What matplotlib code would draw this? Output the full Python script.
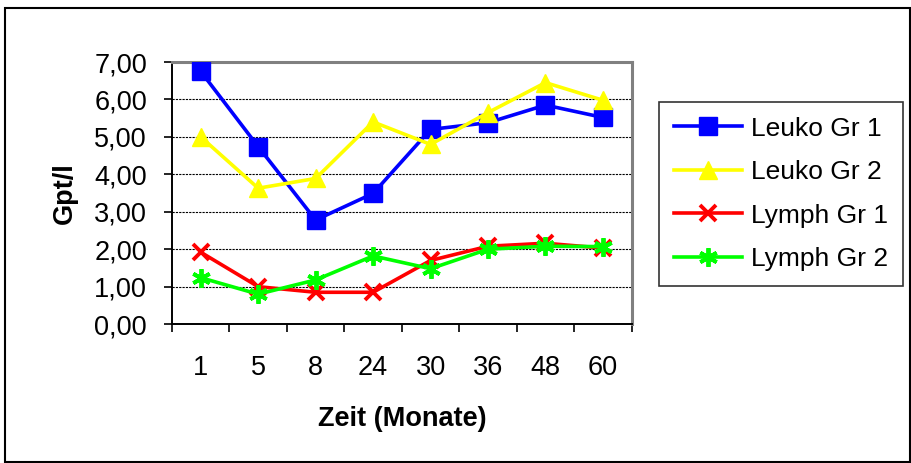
import numpy as np
import matplotlib as mpl
import matplotlib.pyplot as plt
from matplotlib.patches import Rectangle

mpl.rcParams.update({
    'font.family': ['Liberation Sans', 'DejaVu Sans'],
    'font.size': 19.5,
})

months = ['1', '5', '8', '24', '30', '36', '48', '60']
leuko_gr1 = [6.75, 4.74, 2.78, 3.49, 5.20, 5.38, 5.85, 5.52]
leuko_gr2 = [5.00, 3.63, 3.89, 5.40, 4.80, 5.65, 6.45, 5.98]
lymph_gr1 = [1.92, 1.00, 0.85, 0.85, 1.70, 2.08, 2.16, 2.03]
lymph_gr2 = [1.24, 0.80, 1.18, 1.82, 1.48, 2.00, 2.08, 2.07]

SERIES = [
    ('Leuko Gr 1', leuko_gr1, '#0000ff', 's', 12.5),
    ('Leuko Gr 2', leuko_gr2, '#ffff00', '^', 13.5),
    ('Lymph Gr 1', lymph_gr1, '#ff0000', 'x', 12),
    ('Lymph Gr 2', lymph_gr2, '#00ff00', (6, 2, 0), 13.5),
]

fig = plt.figure(figsize=(9.12, 4.63), dpi=100)
ax = fig.add_axes([0.1886, 0.300, 0.504, 0.566])

x = np.arange(len(months))
for name, vals, col, mk, ms in SERIES:
    ax.plot(x, vals, color=col, lw=2.6, marker=mk, markersize=ms,
            markerfacecolor=col, markeredgecolor=col,
            markeredgewidth=2.8 if mk not in ('s', '^') else 1,
            label=name, zorder=3)

ax.set_xlim(-0.5, len(months) - 0.5)
ax.set_ylim(0, 7)
yt = np.arange(0, 7.01, 1)
ax.set_yticks(yt)
ax.set_yticklabels([f'{v:.2f}'.replace('.', ',') for v in yt], fontsize=19.5)
ax.set_xticks(x)
ax.set_xticklabels(months, fontsize=19.5)
ax.set_xticks(np.arange(-0.5, len(months), 1), minor=True)
ax.tick_params(axis='x', which='major', length=0, pad=22)
ax.tick_params(axis='x', which='minor', length=6, width=1.2, direction='out')
ax.tick_params(axis='y', length=6, width=1.2, direction='out', pad=12)

for v in range(1, 7):
    ax.axhline(v, color='black', lw=0.8, ls=(0, (2, 1)), zorder=1)

for side in ('left', 'bottom'):
    ax.spines[side].set_color('black')
    ax.spines[side].set_linewidth(1.4)
for side in ('top', 'right'):
    ax.spines[side].set_color('#808080')
    ax.spines[side].set_linewidth(2.2)

ax.set_ylabel('Gpt/l', fontsize=19.5, fontweight='bold', labelpad=12)
ax.set_xlabel('Zeit (Monate)', fontsize=19.5, fontweight='bold', labelpad=18)

leg = fig.legend(*ax.get_legend_handles_labels(), loc='upper left',
                 bbox_to_anchor=(659 / 912, 1 - 102 / 463), frameon=True,
                 fancybox=False, fontsize=19, handlelength=2.6, labelspacing=0.74,
                 borderpad=0.55, handletextpad=0.35, borderaxespad=0)
leg.get_frame().set_edgecolor('black')
leg.get_frame().set_linewidth(1.2)

fig.patches.append(Rectangle((0.006, 0.002), 0.992, 0.98, transform=fig.transFigure,
                             fill=False, edgecolor='black', lw=1.5))

fig.savefig('out.png', dpi=100)
